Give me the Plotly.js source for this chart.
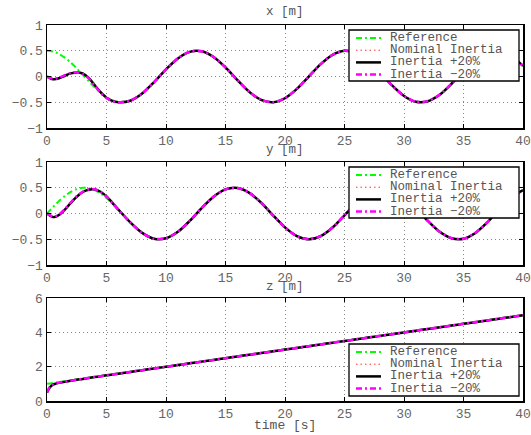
<!DOCTYPE html>
<html>
<head>
<meta charset="utf-8">
<script src="https://cdn.plot.ly/plotly-3.0.1.min.js"></script>
<style>html,body{margin:0;padding:0;background:#fff;}#chart{width:531px;height:435px;}</style>
</head>
<body>
<div id="chart"></div>
<script>
// ---- data ----
const time = [0,0.25,0.5,0.75,1,1.5,2,2.5,3,3.5,4,4.5,5,5.5,6,
  7,8,9,10,11,12,13,14,15,16,17,18,19,20,21,22,23,24,25,26,27,28,29,30,31,32,33,34,35,36,37,38,39,40];

const seriesNames = ["Reference","Nominal Inertia","Inertia +20%","Inertia \u221220%"];
const panelTitles = ["x [m]","y [m]","z [m]"];
const xTickVals = [0,5,10,15,20,25,30,35,40];

// x [m]
const xRef   = [0.5,0.496,0.484,0.465,0.439,0.366,0.270,0.158,0.035,-0.089,-0.208,-0.314,-0.401,-0.462,-0.495,
  -0.468,-0.327,-0.105,0.142,0.354,0.480,0.488,0.377,0.173,-0.073,-0.301,-0.456,-0.499,-0.420,-0.238,0.002,0.242,0.422,0.499,0.454,0.297,0.068,-0.177,-0.380,-0.491,-0.479,-0.351,-0.138,0.108,0.330,0.473,0.494,0.396,0.204];
const xNom   = [0,-0.030,-0.050,-0.045,-0.030,0.020,0.065,0.080,0.060,-0.030,-0.170,-0.310,-0.415,-0.475,-0.500,
  -0.470,-0.330,-0.108,0.139,0.352,0.479,0.489,0.379,0.176,-0.070,-0.299,-0.455,-0.499,-0.421,-0.240,0.000,0.240,0.421,0.499,0.455,0.299,0.070,-0.175,-0.379,-0.491,-0.480,-0.353,-0.140,0.106,0.329,0.472,0.495,0.398,0.206];
const xPlus  = [0,-0.032,-0.055,-0.050,-0.035,0.015,0.060,0.080,0.062,-0.025,-0.165,-0.305,-0.412,-0.474,-0.500,
  -0.471,-0.331,-0.109,0.138,0.351,0.479,0.489,0.380,0.177,-0.069,-0.298,-0.455,-0.499,-0.422,-0.241,-0.001,0.239,0.421,0.499,0.455,0.300,0.071,-0.174,-0.378,-0.490,-0.480,-0.354,-0.141,0.105,0.328,0.472,0.495,0.398,0.207];
const xMinus = [0,-0.027,-0.045,-0.040,-0.025,0.025,0.068,0.080,0.058,-0.035,-0.175,-0.315,-0.418,-0.476,-0.500,
  -0.469,-0.329,-0.107,0.140,0.353,0.480,0.489,0.378,0.175,-0.071,-0.300,-0.456,-0.499,-0.421,-0.239,0.001,0.241,0.422,0.499,0.454,0.298,0.069,-0.176,-0.379,-0.491,-0.479,-0.352,-0.139,0.107,0.329,0.473,0.494,0.397,0.205];

// y [m]
const yRef   = [0,0.062,0.124,0.183,0.240,0.341,0.421,0.474,0.499,0.492,0.455,0.389,0.299,0.191,0.071,
  -0.175,-0.378,-0.489,-0.479,-0.353,-0.140,0.108,0.328,0.469,0.495,0.399,0.206,-0.038,-0.272,-0.440,-0.500,-0.438,-0.268,-0.033,0.210,0.402,0.495,0.467,0.325,0.103,-0.144,-0.356,-0.481,-0.489,-0.376,-0.169,0.075,0.303,0.456];
const yNom   = [0,-0.040,-0.065,-0.055,-0.025,0.080,0.210,0.330,0.420,0.465,0.470,0.420,0.330,0.205,0.075,
  -0.173,-0.377,-0.489,-0.480,-0.355,-0.142,0.106,0.327,0.468,0.495,0.400,0.208,-0.036,-0.270,-0.439,-0.500,-0.439,-0.270,-0.035,0.208,0.401,0.495,0.468,0.327,0.105,-0.142,-0.355,-0.480,-0.489,-0.377,-0.171,0.073,0.301,0.455];
const yPlus  = [0,-0.043,-0.070,-0.060,-0.030,0.075,0.205,0.325,0.417,0.463,0.470,0.422,0.332,0.207,0.076,
  -0.172,-0.376,-0.489,-0.481,-0.356,-0.143,0.105,0.326,0.468,0.495,0.401,0.209,-0.035,-0.269,-0.438,-0.500,-0.440,-0.271,-0.036,0.207,0.400,0.495,0.469,0.328,0.106,-0.141,-0.354,-0.480,-0.490,-0.378,-0.172,0.072,0.300,0.454];
const yMinus = [0,-0.037,-0.060,-0.050,-0.020,0.085,0.215,0.335,0.423,0.467,0.470,0.418,0.328,0.203,0.074,
  -0.174,-0.378,-0.489,-0.480,-0.354,-0.141,0.107,0.328,0.469,0.495,0.400,0.207,-0.037,-0.271,-0.440,-0.500,-0.438,-0.269,-0.034,0.209,0.402,0.495,0.467,0.326,0.104,-0.143,-0.356,-0.481,-0.489,-0.376,-0.170,0.074,0.302,0.456];

// z [m]
const zRef   = [1.000,1.025,1.050,1.075,1.100,1.150,1.200,1.250,1.300,1.350,1.400,1.450,1.500,1.550,1.600,
  1.7,1.8,1.9,2.0,2.1,2.2,2.3,2.4,2.5,2.6,2.7,2.8,2.9,3.0,3.1,3.2,3.3,3.4,3.5,3.6,3.7,3.8,3.9,4.0,4.1,4.2,4.3,4.4,4.5,4.6,4.7,4.8,4.9,5.0];
const zNom   = [0.50,0.82,0.96,1.02,1.06,1.12,1.18,1.24,1.29,1.345,1.395,1.445,1.495,1.545,1.595,
  1.695,1.795,1.895,1.995,2.095,2.195,2.295,2.395,2.495,2.595,2.695,2.795,2.895,2.995,3.095,3.195,3.295,3.395,3.495,3.595,3.695,3.795,3.895,3.995,4.095,4.195,4.295,4.395,4.495,4.595,4.695,4.795,4.895,4.995];
const zPlus  = [0.50,0.80,0.95,1.01,1.055,1.115,1.175,1.235,1.287,1.342,1.393,1.444,1.494,1.544,1.594,
  1.694,1.794,1.894,1.994,2.094,2.194,2.294,2.394,2.494,2.594,2.694,2.794,2.894,2.994,3.094,3.194,3.294,3.394,3.494,3.594,3.694,3.794,3.894,3.994,4.094,4.194,4.294,4.394,4.494,4.594,4.694,4.794,4.894,4.994];
const zMinus = [0.50,0.84,0.97,1.03,1.065,1.125,1.185,1.245,1.293,1.347,1.397,1.446,1.496,1.546,1.596,
  1.696,1.796,1.896,1.996,2.096,2.196,2.296,2.396,2.496,2.596,2.696,2.796,2.896,2.996,3.096,3.196,3.296,3.396,3.496,3.596,3.696,3.796,3.896,3.996,4.096,4.196,4.296,4.396,4.496,4.596,4.696,4.796,4.896,4.996];

const panels = [
  {ref:xRef, nom:xNom, plus:xPlus, minus:xMinus},
  {ref:yRef, nom:yNom, plus:yPlus, minus:yMinus},
  {ref:zRef, nom:zNom, plus:zPlus, minus:zMinus}
];

// ---- styles ----
const FONT = "Liberation Mono, Courier New, monospace";
const styles = [
  {color:"#00ff00", width:2,   dash:"6px,3px,2px,3px"},
  {color:"#ff3030", width:1,   dash:"1.5px,3px"},
  {color:"#000000", width:2.5, dash:"solid"},
  {color:"#ff00ff", width:2.5, dash:"6px,3px,2px,3px"}
];

const W = 531, H = 435, ML = 47, MR = 8, MT = 25, MB = 34;
const PW = W - ML - MR, PH = H - MT - MB;
const px2x = p => (p - ML) / PW;
const py2y = p => (H - MB - p) / PH;

const domains = [[py2y(128), 1], [py2y(265), py2y(162)], [0, py2y(298)]];

const traces = [];
panels.forEach((p, i) => {
  const xa = i === 0 ? "x" : "x" + (i + 1);
  const ya = i === 0 ? "y" : "y" + (i + 1);
  [p.ref, p.nom, p.plus, p.minus].forEach((vals, k) => {
    traces.push({
      x: time, y: vals, xaxis: xa, yaxis: ya, type: "scatter", mode: "lines",
      name: seriesNames[k], showlegend: false,
      line: {color: styles[k].color, width: styles[k].width, dash: styles[k].dash, shape: "spline", smoothing: 0.8}
    });
  });
});

const GRID = {showgrid: true, gridcolor: "#888", griddash: "1px,3px", gridwidth: 1, zeroline: false};
function xAxis(i) {
  return Object.assign({
    domain: [0, 1], range: [0, 40], anchor: i === 0 ? "y" : "y" + (i + 1),
    tickvals: xTickVals, ticks: "inside", ticklen: 4, tickcolor: "#000", tickwidth: 1,
    showline: true, linecolor: "#000", linewidth: 1.5, mirror: "ticks",
    tickfont: {family: FONT, size: 13, color: "#666"}
  }, GRID);
}
function yAxis(i, range, dtick) {
  return Object.assign({
    domain: domains[i], range: range, dtick: dtick, tick0: range[0], anchor: i === 0 ? "x" : "x" + (i + 1),
    ticks: "inside", ticklen: 4, tickcolor: "#000", tickwidth: 1,
    showline: true, linecolor: "#000", linewidth: 1.5, mirror: "ticks",
    tickfont: {family: FONT, size: 13, color: "#666"}
  }, GRID);
}

// manual legends (boxes placed in page pixels, converted to paper units)
const legendBoxes = [
  {x0:349, x1:519, y0:30,  y1:81},
  {x0:349, x1:519, y0:167, y1:218},
  {x0:349, x1:519, y0:344, y1:396}
];
const shapes = [], annotations = [];
legendBoxes.forEach(b => {
  shapes.push({type:"rect", xref:"paper", yref:"paper", x0:px2x(b.x0), x1:px2x(b.x1), y0:py2y(b.y1), y1:py2y(b.y0),
    fillcolor:"#fff", line:{color:"#000", width:1.3}, layer:"above"});
  seriesNames.forEach((nm, k) => {
    const cy = b.y0 + 8 + 12.2 * k;
    shapes.push({type:"line", xref:"paper", yref:"paper", x0:px2x(356), x1:px2x(381), y0:py2y(cy), y1:py2y(cy),
      line:{color:styles[k].color, width:styles[k].width, dash:styles[k].dash}, layer:"above"});
    annotations.push({xref:"paper", yref:"paper", x:px2x(388), y:py2y(cy), xanchor:"left", yanchor:"middle",
      text:nm, showarrow:false, font:{family:FONT, size:12.5, color:"#555"}});
  });
});
const titleY = [12, 150, 287];
panelTitles.forEach((t, i) => {
  annotations.push({xref:"paper", yref:"paper", x:0.5, y:py2y(titleY[i]), xanchor:"center", yanchor:"middle",
    text:t, showarrow:false, font:{family:FONT, size:12.5, color:"#555"}});
});
annotations.push({xref:"paper", yref:"paper", x:0.5, y:py2y(425), xanchor:"center", yanchor:"middle",
  text:"time [s]", showarrow:false, font:{family:FONT, size:13, color:"#555"}});

const layout = {
  width: W, height: H, margin: {l: ML, r: MR, t: MT, b: MB},
  paper_bgcolor: "#fff", plot_bgcolor: "#fff", showlegend: false,
  font: {family: FONT, color: "#555"},
  xaxis: xAxis(0), xaxis2: xAxis(1), xaxis3: xAxis(2),
  yaxis: yAxis(0, [-1, 1], 0.5), yaxis2: yAxis(1, [-1, 1], 0.5), yaxis3: yAxis(2, [0, 6], 2),
  shapes: shapes, annotations: annotations
};

Plotly.newPlot("chart", traces, layout, {displayModeBar: false, staticPlot: true});
</script>
</body>
</html>
